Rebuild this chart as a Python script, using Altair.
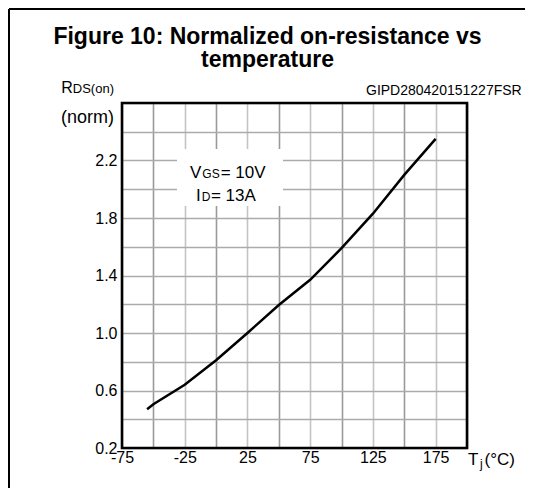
import altair as alt
import pandas as pd

# ---- data ----
tj = [-55, -50, -25, 0, 25, 50, 75, 100, 125, 150, 175]
rds = [0.47, 0.505, 0.64, 0.81, 1.0, 1.195, 1.37, 1.59, 1.83, 2.10, 2.35]

x_grid = [-75, -50, -25, 0, 25, 50, 75, 100, 125, 150, 175, 200]
x_labels = [-75, -25, 25, 75, 125, 175]
y_grid = [0.2, 0.4, 0.6, 0.8, 1.0, 1.2, 1.4, 1.6, 1.8, 2.0, 2.2, 2.4, 2.6]
y_labels = ["0.2", "0.6", "1.0", "1.4", "1.8", "2.2"]

title_lines = ["Figure 10: Normalized on-resistance vs", "temperature"]
code_text = "GIPD280420151227FSR"

FONT = "Liberation Sans"
W, H = 345, 345
PAD = {"left": 114, "top": 95, "right": 58, "bottom": 40}

# Arial / Liberation Sans advance widths (em) for the characters used in mixed-size labels
ADV = {"V": .667, "G": .778, "S": .667, "I": .278, "D": .722, "R": .722, "T": .611,
       "j": .222, "(": .333, ")": .333, "o": .556, "n": .556}


def tw(s, size):
    return sum(ADV.get(c, .556) for c in s) * size


df = pd.DataFrame({"Tj": tj, "Rds": rds})

x_lab_expr = ("indexof(" + str(x_labels) + ", datum.value) >= 0 ? "
              "replace(datum.label, '\u2212', '-') : ''")
y_lab_expr = "indexof(" + str(y_labels) + ", datum.label) >= 0 ? datum.label : ''"

curve = alt.Chart(df).mark_line(color="black", strokeWidth=2.5).encode(
    x=alt.X("Tj:Q", scale=alt.Scale(domain=[-75, 200], nice=False, zero=False),
            axis=alt.Axis(values=x_grid, labelExpr=x_lab_expr, title=None, ticks=False,
                          tickSize=0, domain=False, labelPadding=1, labelFontSize=16,
                          labelFont=FONT, labelColor="black", labelFlush=False,
                          gridColor=alt.condition("datum.value % 50 === 0",
                                                  alt.value("#9a9a9a"), alt.value("#c4c4c4")),
                          gridWidth=1.6)),
    y=alt.Y("Rds:Q", scale=alt.Scale(domain=[0.2, 2.6], nice=False, zero=False),
            axis=alt.Axis(values=y_grid, format=".1f", labelExpr=y_lab_expr, title=None,
                          ticks=False, tickSize=0, domain=False, labelPadding=5,
                          labelFlushOffset=2,
                          labelFontSize=16, labelFont=FONT, labelColor="black",
                          gridColor="#ababab", gridWidth=1.6)),
)

one = alt.Data(values=[{"k": 1}])


def txt(text, x, y, size, align="left", weight="normal", baseline="alphabetic"):
    return alt.Chart(one).mark_text(text=text, font=FONT, fontSize=size, align=align,
                                    baseline=baseline, fontWeight=weight,
                                    color="black").encode(x=alt.value(x), y=alt.value(y))


layers = []

# white box behind the condition note
layers.append(alt.Chart(one).mark_rect(color="white").encode(
    x=alt.value(55), x2=alt.value(161), y=alt.value(46), y2=alt.value(103)))
layers.append(curve)
# plot border
layers.append(alt.Chart(one).mark_rect(filled=False, stroke="black", strokeWidth=2.6).encode(
    x=alt.value(0), x2=alt.value(W), y=alt.value(0), y2=alt.value(H)))
# outer figure frame (top and left)
right_edge = W + PAD["right"]
bottom_edge = H + PAD["bottom"]
layers.append(alt.Chart(one).mark_rule(color="black", strokeWidth=2).encode(
    x=alt.value(-113), x2=alt.value(right_edge), y=alt.value(-94)))
layers.append(alt.Chart(one).mark_rule(color="black", strokeWidth=2).encode(
    x=alt.value(-113), y=alt.value(-94), y2=alt.value(bottom_edge)))

# title
layers.append(txt(title_lines[0], 145.5, -59, 23, align="center", weight="bold"))
layers.append(txt(title_lines[1], 145.5, -36, 23, align="center", weight="bold"))
layers.append(txt(code_text, 244, -8, 14))

# y-axis title  R_DS(on) / (norm)
ry = -9.7
right = -8
layers.append(txt("DS(on)", right, ry, 13, align="right"))
layers.append(txt("R", right - tw("DS(on)", 13), ry, 16, align="right"))
layers.append(txt("(norm)", right, 20, 18, align="right"))

# x-axis title  T_j(°C)
tx = 346
layers.append(txt("T", tx, 362, 17))
layers.append(txt("j", tx + tw("T", 17) + 1.5, 365, 12))
layers.append(txt("(°C)", tx + tw("T", 17) + tw("j", 12) + 3.5, 362, 17))

# condition note
vx = 68
layers.append(txt("V", vx, 75.3, 17))
layers.append(txt("GS", vx + tw("V", 17) + 1, 75.3, 12))
layers.append(txt("= 10V", vx + tw("V", 17) + tw("GS", 12) + 2, 75.3, 17))
ix = 74
layers.append(txt("I", ix, 98, 17))
layers.append(txt("D", ix + tw("I", 17) + 1, 98, 12))
layers.append(txt("= 13A", ix + tw("I", 17) + tw("D", 12) + 1.5, 98, 17))

chart = alt.layer(*layers).properties(
    width=W, height=H,
    autosize=alt.AutoSizeParams(type="none"),
    padding=PAD,
    background="white",
).configure_view(stroke=None)

chart.save("out.html", embed_options={"renderer": "svg", "actions": False})
